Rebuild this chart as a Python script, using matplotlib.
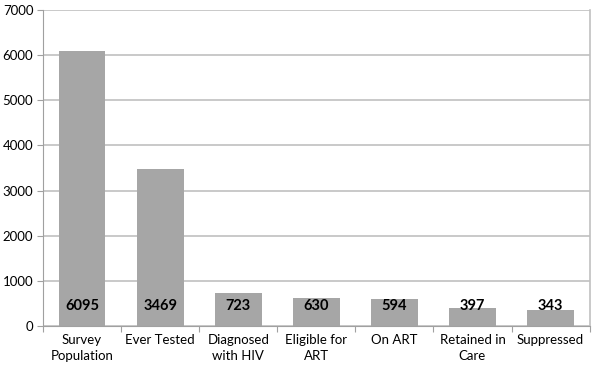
import matplotlib
matplotlib.use('Agg')
import matplotlib.pyplot as plt

# HIV care cascade counts
categories = ['Survey\nPopulation', 'Ever Tested', 'Diagnosed\nwith HIV', 'Eligible for\nART',
              'On ART', 'Retained in\nCare', 'Suppressed']
values = [6095, 3469, 723, 630, 594, 397, 343]
yticks = [0, 1000, 2000, 3000, 4000, 5000, 6000, 7000]

plt.rcParams['font.family'] = ['Lato', 'DejaVu Sans']

fig = plt.figure(figsize=(6, 3.7), dpi=100)
ax = fig.add_axes([0.0717, 0.119, 0.911, 0.854])

x = list(range(len(values)))
ax.bar(x, values, width=0.6, color='#a6a6a6', zorder=2)

# value labels near the bottom of each bar
for xi, v in zip(x, values):
    ax.text(xi, 440, str(v), ha='center', va='center', fontsize=10.5, fontweight='bold', color='black', zorder=3)

ax.set_xlim(-0.5, len(values) - 0.5)
ax.set_ylim(0, 7000)
ax.set_yticks(yticks)
ax.set_yticklabels([str(t) for t in yticks], fontsize=9.5)
ax.yaxis.grid(True, color='#c0c0c0', linewidth=1.2, zorder=0)
ax.set_axisbelow(True)

# category ticks between bars
ax.set_xticks([i + 0.5 for i in range(-1, len(values))], minor=False)
ax.set_xticklabels([])
ax.set_xticks(x, minor=True)
ax.set_xticklabels(categories, minor=True, fontsize=9.5, linespacing=1.35)
ax.tick_params(axis='x', which='major', length=4, color='#a0a0a0')
ax.tick_params(axis='x', which='minor', length=0, pad=6)
ax.tick_params(axis='y', length=4, color='#a0a0a0', pad=3)

ax.spines['top'].set_visible(False)
ax.spines['left'].set_color('#a0a0a0')
ax.spines['bottom'].set_color('#a0a0a0')
ax.spines['right'].set_color('#c0c0c0')
ax.spines['right'].set_linewidth(1.2)

fig.savefig('out.png', dpi=100)
